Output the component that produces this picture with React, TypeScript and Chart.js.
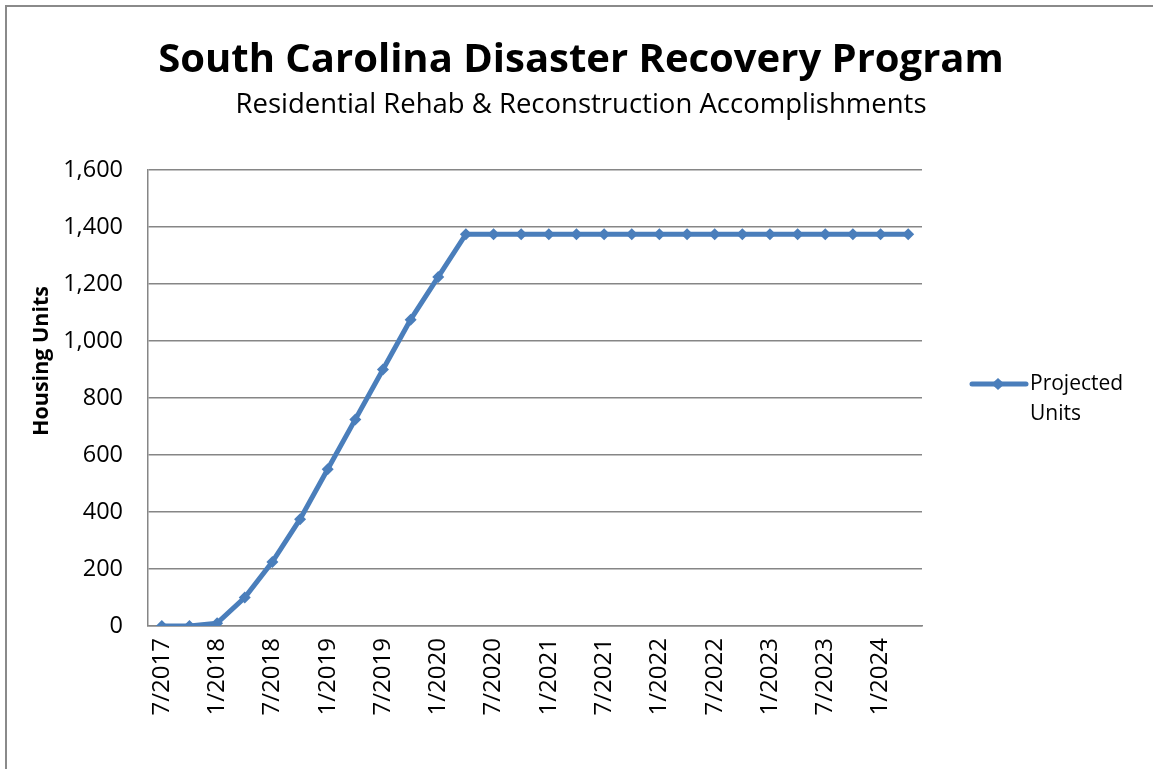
import React, { useEffect, useRef } from 'react';
import { Chart, registerables } from 'chart.js';

Chart.register(...registerables);

const quarters = [
  '7/2017', '10/2017',
  '1/2018', '4/2018', '7/2018', '10/2018',
  '1/2019', '4/2019', '7/2019', '10/2019',
  '1/2020', '4/2020', '7/2020', '10/2020',
  '1/2021', '4/2021', '7/2021', '10/2021',
  '1/2022', '4/2022', '7/2022', '10/2022',
  '1/2023', '4/2023', '7/2023', '10/2023',
  '1/2024', '4/2024',
];

const projectedUnits = [
  0, 0,
  10, 100, 225, 375,
  550, 725, 900, 1075,
  1225, 1375, 1375, 1375,
  1375, 1375, 1375, 1375,
  1375, 1375, 1375, 1375,
  1375, 1375, 1375, 1375,
  1375, 1375,
];

const yMin = 0;
const yMax = 1600;
const yStep = 200;

const titleText = 'South Carolina Disaster Recovery Program';
const subtitleText = 'Residential Rehab & Reconstruction Accomplishments';
const yAxisTitle = 'Housing Units';
const seriesName = 'Projected Units';
const legendLines = ['Projected', 'Units'];

const FONT = "'Open Sans', 'Noto Sans', sans-serif";
const LINE_COLOR = '#4A7EBB';
const GRID_COLOR = '#868686';

const decorPlugin = {
  id: 'decor',
  beforeDraw(chart: any) {
    const { ctx, width, height } = chart;
    ctx.save();
    ctx.fillStyle = '#ffffff';
    ctx.fillRect(0, 0, width, height);
    ctx.strokeStyle = '#8a8a8a';
    ctx.lineWidth = 2;
    ctx.beginPath();
    ctx.moveTo(6, height);
    ctx.lineTo(6, 6);
    ctx.lineTo(width, 6);
    ctx.stroke();
    ctx.restore();
  },
  afterDraw(chart: any) {
    const { ctx } = chart;
    ctx.save();
    ctx.fillStyle = '#000000';
    ctx.textAlign = 'center';
    ctx.textBaseline = 'alphabetic';
    ctx.font = `bold 40px ${FONT}`;
    ctx.fillText(titleText, 581, 72);
    ctx.font = `27.5px ${FONT}`;
    ctx.fillText(subtitleText, 581, 113);

    // y axis title
    ctx.save();
    ctx.translate(42, 361);
    ctx.rotate(-Math.PI / 2);
    ctx.font = `bold 21.5px ${FONT}`;
    ctx.textBaseline = 'middle';
    ctx.fillText(yAxisTitle, 0, 0);
    ctx.restore();

    // legend
    ctx.strokeStyle = LINE_COLOR;
    ctx.lineWidth = 5;
    ctx.lineCap = 'round';
    ctx.beginPath();
    ctx.moveTo(972, 384);
    ctx.lineTo(1026, 384);
    ctx.stroke();
    ctx.fillStyle = LINE_COLOR;
    ctx.beginPath();
    ctx.moveTo(998, 378);
    ctx.lineTo(1004.5, 384);
    ctx.lineTo(998, 390);
    ctx.lineTo(991.5, 384);
    ctx.closePath();
    ctx.fill();
    ctx.fillStyle = '#000000';
    ctx.textAlign = 'left';
    ctx.textBaseline = 'middle';
    ctx.font = `21px ${FONT}`;
    ctx.fillText(legendLines[0], 1030, 384);
    ctx.fillText(legendLines[1], 1030, 414);
    ctx.restore();
  },
};

export default function App() {
  const ref = useRef<HTMLCanvasElement | null>(null);

  useEffect(() => {
    if (!ref.current) return;
    const chart = new Chart(ref.current, {
      type: 'line',
      data: {
        labels: quarters,
        datasets: [
          {
            label: seriesName,
            data: projectedUnits,
            borderColor: LINE_COLOR,
            backgroundColor: LINE_COLOR,
            borderWidth: 5,
            pointStyle: 'rectRot',
            pointRadius: 6,
            pointBorderWidth: 0,
            tension: 0,
          },
        ],
      },
      options: {
        animation: false,
        responsive: false,
        devicePixelRatio: 1,
        layout: { padding: { left: 0, top: 170, right: 231, bottom: 0 } },
        plugins: {
          legend: { display: false },
          title: { display: false },
          tooltip: { enabled: false },
        },
        scales: {
          x: {
            type: 'category',
            offset: true,
            grid: { display: false, drawTicks: false },
            border: { display: true, color: GRID_COLOR, width: 1.5 },
            ticks: {
              autoSkip: false,
              maxRotation: 90,
              minRotation: 90,
              padding: 12,
              color: '#000000',
              font: { family: FONT, size: 24 },
              callback: (_v: any, i: number) => (i % 2 === 0 ? quarters[i] : ''),
            },
            afterFit: (scale: any) => {
              scale.height = 143;
            },
          },
          y: {
            min: yMin,
            max: yMax,
            grid: { color: GRID_COLOR, lineWidth: 1.5, drawTicks: false },
            border: { display: true, color: GRID_COLOR, width: 1.5 },
            ticks: {
              stepSize: yStep,
              padding: 25,
              color: '#000000',
              font: { family: FONT, size: 23.5 },
              callback: (v: any) => Number(v).toLocaleString('en-US'),
            },
            afterFit: (scale: any) => {
              scale.width = 148;
            },
          },
        },
      },
      plugins: [decorPlugin],
    });
    return () => chart.destroy();
  }, []);

  return (
    <div style={{ position: 'fixed', left: 0, top: 0, width: 1153, height: 769, background: '#fff' }}>
      <canvas ref={ref} width={1153} height={769} style={{ width: 1153, height: 769, display: 'block' }} />
    </div>
  );
}
